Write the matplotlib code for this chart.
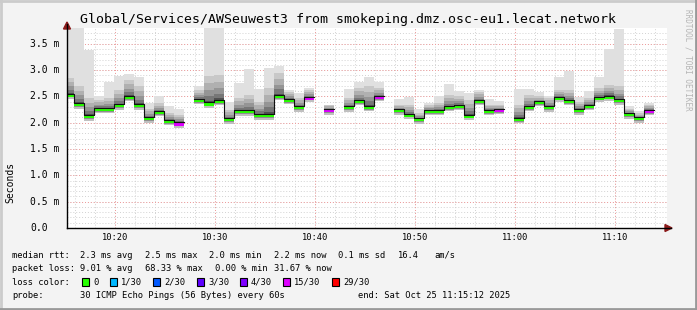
import numpy as np
import matplotlib.pyplot as plt
from matplotlib.lines import Line2D
from matplotlib.patches import Polygon, Rectangle
from matplotlib.transforms import blended_transform_factory

plt.rcParams['font.family'] = 'DejaVu Sans Mono'

nan = np.nan

# one value per step: first step is the partial one 10:15:12-10:15:52, then one per minute
rtt_med = np.array([2.53, 2.35, 2.12, 2.26, 2.26, 2.33, 2.48, 2.33, 2.08, 2.20, 2.02, 1.98,
                    nan, 2.42, 2.36, 2.40, 2.06, 2.21, 2.21, 2.14, 2.14, 2.50, 2.42, 2.29,
                    2.47, nan, 2.23, nan, 2.29, 2.40, 2.29, 2.48, nan, 2.23, 2.15, 2.06,
                    2.21, 2.22, 2.29, 2.31, 2.13, 2.40, 2.22, 2.23, nan, 2.07, 2.29, 2.38,
                    2.29, 2.47, 2.40, 2.23, 2.31, 2.47, 2.49, 2.42, 2.16, 2.08, 2.22])
rtt_max = np.array([3.95, 3.95, 3.38, 2.50, 2.78, 2.88, 2.93, 2.86, 2.38, 2.51, 2.31, 2.27,
                    nan, 2.70, 3.95, 3.95, 2.39, 2.76, 3.02, 2.64, 3.04, 3.08, 2.62, 2.56,
                    2.66, nan, 2.32, nan, 2.64, 2.78, 2.87, 2.78, nan, 2.46, 2.48, 2.26,
                    2.37, 2.51, 2.74, 2.61, 2.57, 2.62, 2.46, 2.42, nan, 2.64, 2.64, 2.59,
                    2.50, 2.86, 2.98, 2.48, 2.61, 2.86, 3.40, 3.78, 2.32, 2.22, 2.37])
rtt_upper = np.array([2.85, 2.69, 2.47, 2.43, 2.47, 2.62, 2.81, 2.69, 2.27, 2.37, 2.18, 2.15,
                      nan, 2.62, 2.88, 2.91, 2.24, 2.47, 2.53, 2.40, 2.66, 2.94, 2.59, 2.47,
                      2.62, nan, 2.34, nan, 2.47, 2.66, 2.69, 2.66, nan, 2.34, 2.34, 2.18,
                      2.34, 2.37, 2.53, 2.50, 2.43, 2.59, 2.34, 2.34, nan, 2.34, 2.53, 2.50,
                      2.47, 2.62, 2.62, 2.40, 2.47, 2.66, 2.72, 2.69, 2.27, 2.18, 2.34])
rtt_min = np.array([2.45, 2.27, 2.03, 2.18, 2.18, 2.25, 2.41, 2.25, 2.00, 2.12, 1.95, 1.90,
                    nan, 2.35, 2.28, 2.33, 1.98, 2.13, 2.13, 2.06, 2.06, 2.43, 2.35, 2.21,
                    2.40, nan, 2.15, nan, 2.21, 2.33, 2.22, 2.41, nan, 2.15, 2.07, 1.98,
                    2.14, 2.14, 2.22, 2.24, 2.05, 2.33, 2.14, 2.16, nan, 1.99, 2.22, 2.31,
                    2.21, 2.40, 2.33, 2.15, 2.24, 2.40, 2.42, 2.34, 2.08, 2.00, 2.14])
loss = np.array([0, 0, 0, 0, 0, 0, 0, 0, 0, 0, 0, 16,
                 30, 0, 0, 0, 0, 0, 0, 0, 0, 0, 0, 0,
                 16, 30, 16, 30, 0, 0, 0, 16, 30, 0, 0, 0,
                 0, 0, 0, 0, 0, 0, 0, 16, 30, 0, 0, 0,
                 0, 0, 0, 0, 0, 0, 0, 0, 0, 0, 16])

loss_steps = [0, 1, 2, 3, 4, 15, 29]
loss_labels = ['0', '1/30', '2/30', '3/30', '4/30', '15/30', '29/30']
loss_colors = ['#26ff00', '#00b8ff', '#0059ff', '#5e00ff', '#7e00ff', '#dd00ff', '#ff0000']

title = 'Global/Services/AWSeuwest3 from smokeping.dmz.osc-eu1.lecat.network'
stats = [('median rtt:', ['2.3 ms avg', '2.5 ms max', '2.0 ms min', '2.2 ms now', '0.1 ms sd', '16.4', 'am/s']),
         ('packet loss:', ['9.01 % avg', '68.33 % max', '0.00 % min', '31.67 % now'])]
probe = '30 ICMP Echo Pings (56 Bytes) every 60s'
end_label = 'end: Sat Oct 25 11:15:12 2025'

y_ticks = [0.0, 0.5, 1.0, 1.5, 2.0, 2.5, 3.0, 3.5]
y_labels = ['0.0', '0.5 m', '1.0 m', '1.5 m', '2.0 m', '2.5 m', '3.0 m', '3.5 m']
x_ticks = [20, 30, 40, 50, 60, 70]          # minutes after 10:00
x_labels = ['10:20', '10:30', '10:40', '10:50', '11:00', '11:10']

# time axis in minutes after 10:00
t0 = 15 + 12 / 60
edges = np.array([t0] + [15 + 52 / 60 + k for k in range(len(rtt_med))])
left = edges[:-1]
width = np.diff(edges)

W, H = 697, 310
fig = plt.figure(figsize=(W / 100, H / 100), dpi=100, facecolor='#f3f3f3')
ax = fig.add_axes([67 / W, 82 / H, 600 / W, 200 / H])
ax.set_xlim(t0, t0 + 60)
ax.set_ylim(0, 3.8)
ax.set_facecolor('white')
for s in ax.spines.values():
    s.set_visible(False)
ax.set_xticks([])
ax.set_yticks([])

# grid
dots = (0, (1, 2))
for v in np.arange(16, 76, 2):
    ax.axvline(v, color='#d2d2d2', lw=0.7, ls=dots, zorder=0)
for v in np.arange(0.1, 3.8, 0.1):
    ax.axhline(v, color='#d2d2d2', lw=0.7, ls=dots, zorder=0)
for v in x_ticks:
    ax.axvline(v, color='#f09a9a', lw=0.7, ls=dots, zorder=0.5)
for v in y_ticks[1:]:
    ax.axhline(v, color='#f09a9a', lw=0.7, ls=dots, zorder=0.5)

# smoke
ok = ~np.isnan(rtt_med)
ax.bar(left[ok], (rtt_max - rtt_min)[ok], bottom=rtt_min[ok], width=width[ok],
       align='edge', color='#e0e0e0', lw=0, zorder=1)
low_mid = rtt_min + (rtt_med - rtt_min) * 0.4
ax.bar(left[ok], (rtt_med - rtt_min)[ok], bottom=rtt_min[ok], width=width[ok],
       align='edge', color='#c0c0c0', lw=0, zorder=1.1)
ax.bar(left[ok], (rtt_med - low_mid)[ok], bottom=low_mid[ok], width=width[ok],
       align='edge', color='#8e8e8e', lw=0, zorder=1.2)
shades = [(1.0, '#c8c8c8'), (0.75, '#b0b0b0'), (0.5, '#959595'), (0.3, '#777777'), (0.12, '#505050')]
for i, (f, c) in enumerate(shades):
    top = rtt_med + (rtt_upper - rtt_med) * f
    ax.bar(left[ok], (top - rtt_med)[ok], bottom=rtt_med[ok], width=width[ok],
           align='edge', color=c, lw=0, zorder=1.3 + i * 0.1)

# loss coloured median band
for i in np.where(ok)[0]:
    c = loss_colors[0]
    for st, col in zip(loss_steps, loss_colors):
        if loss[i] >= st:
            c = col
    ax.bar(left[i], 0.058, bottom=rtt_med[i] - 0.033, width=width[i], align='edge',
           color=c, lw=0, zorder=3)

# median line
line_y = np.append(rtt_med + 0.025, rtt_med[-1] + 0.025)
ax.step(edges, line_y, where='post', color='#111111', lw=0.8, zorder=4)

# axes lines and arrows
x0 = 67 / W
y0 = 82 / H
fig.add_artist(Line2D([x0, 671 / W], [y0, y0], color='black', lw=1))
fig.add_artist(Line2D([x0, x0], [y0, 286 / H], color='black', lw=1))
fig.add_artist(Polygon([[x0 - 3.5 / W, 281 / H], [x0 + 3.5 / W, 281 / H], [x0, 288 / H]],
                       closed=True, color='#8b1a1a', transform=fig.transFigure))
fig.add_artist(Polygon([[665 / W, y0 - 3.5 / H], [665 / W, y0 + 3.5 / H], [672 / W, y0]],
                       closed=True, color='#8b1a1a', transform=fig.transFigure))

# tick labels
fs = 6.3
ytr = blended_transform_factory(fig.transFigure, ax.transData)
xtr = blended_transform_factory(ax.transData, fig.transFigure)
for v, lab in zip(y_ticks, y_labels):
    ax.text(30 / W, v, lab, transform=ytr, ha='left', va='center', fontsize=7, color='black')
for v, lab in zip(x_ticks, x_labels):
    ax.text(v, (H - 238) / H, lab, transform=xtr, ha='center', va='center', fontsize=fs, color='black')

fig.text(10 / W, 128 / H, 'Seconds', rotation=90, ha='center', va='center', fontsize=7)
fig.text(348 / W, (H - 19) / H, title, ha='center', va='center', fontsize=9.5)
fig.text(688 / W, (H - 60) / H, 'RRDTOOL / TOBI OETIKER', rotation=270, ha='center', va='center',
         fontsize=5.5, color='#b5b5b5')

# legend block
row_y = [255, 268.3, 282.3, 296]
col_x = [80.3, 144.7, 209.3, 273.7, 338.3, 397.7, 434.3]
col_x2 = [80.3, 144.7, 215, 273.7]
for (head, parts), yy, xs in zip(stats, row_y[:2], [col_x, col_x2]):
    fig.text(12.3 / W, (H - yy) / H, head, ha='left', va='center', fontsize=fs)
    for p, xx in zip(parts, xs):
        fig.text(xx / W, (H - yy) / H, p, ha='left', va='center', fontsize=fs)

fig.text(12.3 / W, (H - row_y[2]) / H, 'loss color:', ha='left', va='center', fontsize=fs)
box_x = [82, 110, 153, 197, 240, 283, 332]
for bx, lab, col in zip(box_x, loss_labels, loss_colors):
    fig.add_artist(Rectangle((bx / W, (H - row_y[2] - 4) / H), 7 / W, 8 / H, transform=fig.transFigure,
                             facecolor=col, edgecolor='black', lw=0.8))
    fig.text((bx + 11) / W, (H - row_y[2]) / H, lab, ha='left', va='center', fontsize=fs)

fig.text(12.3 / W, (H - row_y[3]) / H, 'probe:', ha='left', va='center', fontsize=fs)
fig.text(80.3 / W, (H - row_y[3]) / H, probe, ha='left', va='center', fontsize=fs)
fig.text(510 / W, (H - row_y[3]) / H, end_label, ha='right', va='center', fontsize=fs)

# image border
fig.add_artist(Line2D([0, 1], [1 - 1 / H, 1 - 1 / H], color='#cbcbcb', lw=2))
fig.add_artist(Line2D([1 / W, 1 / W], [0, 1], color='#cbcbcb', lw=2))
fig.add_artist(Line2D([0, 1], [1 / H, 1 / H], color='#999999', lw=2))
fig.add_artist(Line2D([1 - 1 / W, 1 - 1 / W], [0, 1], color='#999999', lw=2))

fig.savefig('out.png', dpi=100, facecolor=fig.get_facecolor())
